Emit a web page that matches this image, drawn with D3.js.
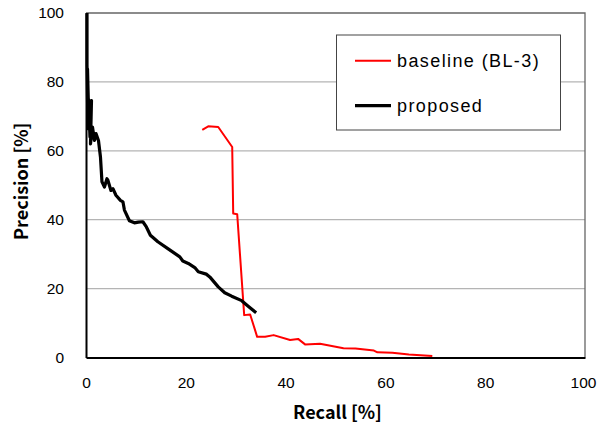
<!DOCTYPE html>
<html><head><meta charset="utf-8">
<script src="https://cdn.jsdelivr.net/npm/d3@7"></script>
<style>body{margin:0;background:#fff}svg{display:block}</style>
</head><body>
<svg id="c" width="597" height="429"></svg>
<script>
const xTicks = [0,20,40,60,80,100];
const yTicks = [0,20,40,60,80,100];
const baselineRecall = [23.3,24.5,26.5,29.3,29.5,30.3,31.7,32.9,34.3,35.9,37.6,40.9,42.5,43.9,46.9,51.6,54.0,57.7,58.4,61.4,64.7,69.4];
const baselinePrec   = [66.1,67.1,66.9,61.1,41.8,41.6,12.3,12.5,6.0,6.0,6.5,5.1,5.4,3.8,4.0,2.7,2.6,2.0,1.5,1.4,0.9,0.4];
const proposedRecall = [0.2,0.2,0.4,0.3,0.6,0.5,0.8,0.7,1.1,0.9,1.3,1.7,2.0,2.5,2.9,3.2,3.7,4.2,4.4,5.0,5.4,6.0,6.9,7.4,7.7,8.7,9.7,10.5,11.4,12.1,12.9,14.4,16.4,18.8,19.4,20.5,21.8,22.5,24.1,24.8,26.5,27.8,29.2,31.2,32.5,34.1];
const proposedPrec   = [100,85,66.4,83.8,67,75,64,70,74.6,62,66.9,63,65,63,58.2,51,49.5,51.9,51.4,48.5,49,47.1,45.6,45.2,42.8,39.7,39.1,39.3,39.4,37.9,35.5,33.6,31.6,29.2,28,27.3,26.1,24.9,24.2,23.4,20.5,18.8,17.8,16.5,14.9,13.0];
const seriesNames = ["baseline (BL-3)","proposed"];

const svg = d3.select("#c");
const L=86,R=585,T=13,B=357.5;
const x = d3.scaleLinear().domain([0,100]).range([L,R]);
const y = d3.scaleLinear().domain([0,100]).range([B,T]);
const font = "'Noto Sans CJK JP','DejaVu Sans',sans-serif";
const tickFont = "'Liberation Sans',Arial,sans-serif";
const legFont = "'Liberation Sans',Arial,sans-serif";

// gridlines
svg.append("g").selectAll("line").data(yTicks.filter(d=>d>0&&d<100)).join("line")
  .attr("x1",L).attr("x2",R).attr("y1",d=>y(d)).attr("y2",d=>y(d))
  .attr("stroke","#b4b4b4").attr("stroke-width",1.3);
// top/right border
svg.append("path").attr("d",`M${L},${T}H${R}V${B}`).attr("fill","none").attr("stroke","#666").attr("stroke-width",1.3);

// axes
const xa = svg.append("g").attr("transform",`translate(0,${B})`).call(d3.axisBottom(x).tickValues(xTicks).tickSize(0).tickPadding(19));
const ya = svg.append("g").attr("transform",`translate(${L},0)`).call(d3.axisLeft(y).tickValues(yTicks).tickSize(0).tickPadding(22));
[xa,ya].forEach(a=>{a.select(".domain").attr("stroke","#000").attr("stroke-width",2);
  a.selectAll("text").attr("font-family",tickFont).attr("font-size",15.5).attr("fill","#000");});
xa.selectAll(".tick text").filter(d=>d===100).attr("dx",-2);

const line = d3.line().x(d=>x(d[0])).y(d=>y(d[1]));
const red = baselineRecall.map((r,i)=>[r,baselinePrec[i]]);
const blk = proposedRecall.map((r,i)=>[r,proposedPrec[i]]);
svg.append("path").attr("d",line(red)).attr("fill","none").attr("stroke","#ff0000").attr("stroke-width",2).attr("stroke-linejoin","round");
svg.append("path").attr("d",line(blk)).attr("fill","none").attr("stroke","#000").attr("stroke-width",3.2).attr("stroke-linejoin","round");

// titles
svg.append("text").attr("x",(L+R)/2+2).attr("y",419).attr("text-anchor","middle")
  .attr("font-family",font).attr("font-weight","bold").attr("font-size",18).text("Recall [%]");
svg.append("text").attr("transform",`translate(28,${(T+B)/2-4}) rotate(-90)`).attr("text-anchor","middle")
  .attr("font-family",font).attr("font-weight","bold").attr("font-size",18).text("Precision [%]");

// legend
const lg = svg.append("g");
lg.append("rect").attr("x",336.5).attr("y",35).attr("width",224).attr("height",95).attr("fill","#fff").attr("stroke","#444").attr("stroke-width",1);
const colors=["#ff0000","#000"], widths=[2,3.2], ly=[60.7,105.7];
seriesNames.forEach((n,i)=>{
  lg.append("line").attr("x1",355).attr("x2",391).attr("y1",ly[i]).attr("y2",ly[i]).attr("stroke",colors[i]).attr("stroke-width",widths[i]);
  lg.append("text").attr("x",397).attr("y",ly[i]+6).attr("font-family",legFont).attr("font-size",18).attr("letter-spacing",1.4).text(n);
});
</script>
</body></html>
